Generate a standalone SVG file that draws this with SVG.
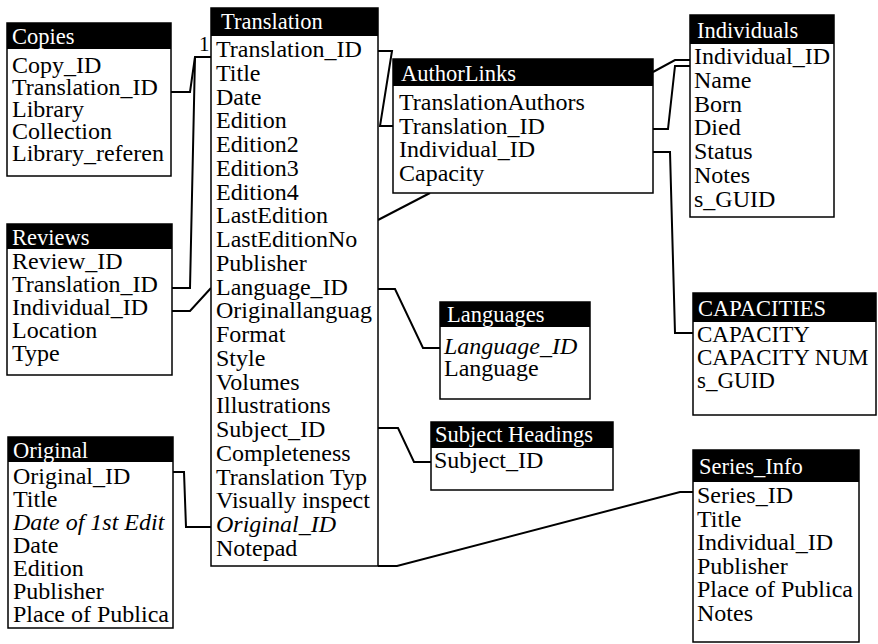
<svg xmlns="http://www.w3.org/2000/svg" width="878" height="644" viewBox="0 0 878 644">
<style>
.box{fill:#fff;stroke:#000;stroke-width:1.5}
.hd{fill:#000}
.ht{fill:#fff;font-family:"Liberation Serif","Times New Roman",serif;font-size:22.5px}
.rt{fill:#000;font-family:"Liberation Serif","Times New Roman",serif;font-size:24px}
.it{font-style:italic}
.cn{fill:none;stroke:#000;stroke-width:2;stroke-linejoin:miter}
</style>
<rect width="878" height="644" fill="#fff"/>
<g id="connectors">
<path class="cn" d="M171,92 H190 L195,57 H211"/>
<path class="cn" d="M172,288 H190 L195,57"/>
<path class="cn" d="M172,311 H190 L211,288"/>
<path class="cn" d="M173,472 H184 L186,527 H211"/>
<path class="cn" d="M378,51 H392 L380,126 H393"/>
<path class="cn" d="M430,193 L378,220"/>
<path class="cn" d="M653,72 L675,60 H690"/>
<path class="cn" d="M653,129 H668 L675,66 H690"/>
<path class="cn" d="M653,152 H670 L675,333 H693"/>
<path class="cn" d="M378,289 H395 L423,348 H440"/>
<path class="cn" d="M378,428 H398 L414,462 H431"/>
<path class="cn" d="M378,566 H397 L680,492 H693"/>
<text x="199" y="51" class="rt" style="font-size:21px">1</text>
</g>
<g id="copies">
<rect class="box" x="7" y="23" width="164" height="153"/>
<rect class="hd" x="7" y="23" width="164" height="26"/>
<text class="ht" x="12" y="44">Copies</text>
<text class="rt" x="12" y="73">Copy_ID</text>
<text class="rt" x="12" y="95">Translation_ID</text>
<text class="rt" x="12" y="117">Library</text>
<text class="rt" x="12" y="139">Collection</text>
<text class="rt" x="12" y="161">Library_referen</text>
</g>
<g id="reviews">
<rect class="box" x="7" y="224" width="165" height="151"/>
<rect class="hd" x="7" y="224" width="165" height="25"/>
<text class="ht" x="12" y="245">Reviews</text>
<text class="rt" x="12" y="269">Review_ID</text>
<text class="rt" x="12" y="292">Translation_ID</text>
<text class="rt" x="12" y="315">Individual_ID</text>
<text class="rt" x="12" y="338">Location</text>
<text class="rt" x="12" y="361">Type</text>
</g>
<g id="original">
<rect class="box" x="8" y="437" width="165" height="191"/>
<rect class="hd" x="8" y="437" width="165" height="25"/>
<text class="ht" x="13" y="458">Original</text>
<text class="rt" x="13" y="484">Original_ID</text>
<text class="rt" x="13" y="507">Title</text>
<text class="rt it" x="13" y="530">Date of 1st Edit</text>
<text class="rt" x="13" y="553">Date</text>
<text class="rt" x="13" y="576">Edition</text>
<text class="rt" x="13" y="599">Publisher</text>
<text class="rt" x="13" y="622">Place of Publica</text>
</g>
<g id="translation">
<rect class="box" x="211" y="8" width="167" height="558"/>
<rect class="hd" x="211" y="8" width="167" height="28"/>
<text class="ht" x="221" y="29">Translation</text>
<text class="rt" x="216" y="57">Translation_ID</text>
<text class="rt" x="216" y="80.7">Title</text>
<text class="rt" x="216" y="104.5">Date</text>
<text class="rt" x="216" y="128.2">Edition</text>
<text class="rt" x="216" y="152">Edition2</text>
<text class="rt" x="216" y="175.7">Edition3</text>
<text class="rt" x="216" y="199.5">Edition4</text>
<text class="rt" x="216" y="223.2">LastEdition</text>
<text class="rt" x="216" y="247">LastEditionNo</text>
<text class="rt" x="216" y="270.7">Publisher</text>
<text class="rt" x="216" y="294.5">Language_ID</text>
<text class="rt" x="216" y="318.2">Originallanguag</text>
<text class="rt" x="216" y="342">Format</text>
<text class="rt" x="216" y="365.7">Style</text>
<text class="rt" x="216" y="389.5">Volumes</text>
<text class="rt" x="216" y="413.2">Illustrations</text>
<text class="rt" x="216" y="437">Subject_ID</text>
<text class="rt" x="216" y="460.7">Completeness</text>
<text class="rt" x="216" y="484.5">Translation Typ</text>
<text class="rt" x="216" y="508.2">Visually inspect</text>
<text class="rt it" x="216" y="532">Original_ID</text>
<text class="rt" x="216" y="555.7">Notepad</text>
</g>
<g id="authorlinks">
<rect class="box" x="393" y="59" width="260" height="134"/>
<rect class="hd" x="393" y="59" width="260" height="27"/>
<text class="ht" x="401" y="81">AuthorLinks</text>
<text class="rt" x="399" y="110">TranslationAuthors</text>
<text class="rt" x="399" y="133.5">Translation_ID</text>
<text class="rt" x="399" y="157">Individual_ID</text>
<text class="rt" x="399" y="180.5">Capacity</text>
</g>
<g id="individuals">
<rect class="box" x="690" y="15" width="144" height="202"/>
<rect class="hd" x="690" y="15" width="144" height="29"/>
<text class="ht" x="697" y="38">Individuals</text>
<text class="rt" x="694" y="64">Individual_ID</text>
<text class="rt" x="694" y="87.8">Name</text>
<text class="rt" x="694" y="111.6">Born</text>
<text class="rt" x="694" y="135.4">Died</text>
<text class="rt" x="694" y="159.2">Status</text>
<text class="rt" x="694" y="183">Notes</text>
<text class="rt" x="694" y="206.8">s_GUID</text>
</g>
<g id="capacities">
<rect class="box" x="693" y="293" width="183" height="122"/>
<rect class="hd" x="693" y="293" width="183" height="29"/>
<text class="ht" x="698" y="316">CAPACITIES</text>
<text class="rt" x="697" y="342" style="font-size:23px">CAPACITY</text>
<text class="rt" x="697" y="365" style="font-size:23px">CAPACITY NUM</text>
<text class="rt" x="697" y="388" style="font-size:23px">s_GUID</text>
</g>
<g id="languages">
<rect class="box" x="440" y="302" width="150" height="97"/>
<rect class="hd" x="440" y="302" width="150" height="25"/>
<text class="ht" x="447" y="322">Languages</text>
<text class="rt it" x="444" y="354">Language_ID</text>
<text class="rt" x="444" y="376">Language</text>
</g>
<g id="subjectheadings">
<rect class="box" x="431" y="422" width="182" height="68"/>
<rect class="hd" x="431" y="422" width="182" height="26"/>
<text class="ht" x="435" y="442">Subject Headings</text>
<text class="rt" x="434" y="468">Subject_ID</text>
</g>
<g id="seriesinfo">
<rect class="box" x="693" y="450" width="166" height="192"/>
<rect class="hd" x="693" y="450" width="166" height="32"/>
<text class="ht" x="699" y="474">Series_Info</text>
<text class="rt" x="697" y="503">Series_ID</text>
<text class="rt" x="697" y="526.5">Title</text>
<text class="rt" x="697" y="550">Individual_ID</text>
<text class="rt" x="697" y="573.5">Publisher</text>
<text class="rt" x="697" y="597">Place of Publica</text>
<text class="rt" x="697" y="620.5">Notes</text>
</g>
</svg>
